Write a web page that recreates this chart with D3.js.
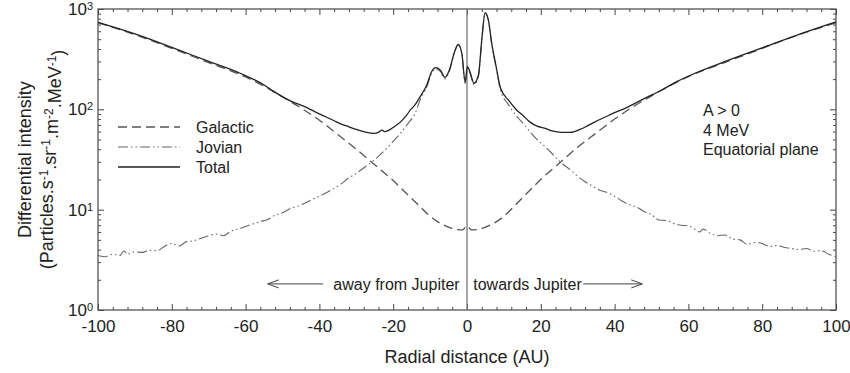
<!DOCTYPE html>
<html>
<head>
<meta charset="utf-8">
<script src="https://cdn.jsdelivr.net/npm/d3@7"></script>
<style>
  body { margin: 0; background: #fff; }
  svg { font-family: "Liberation Sans", Arial, sans-serif; }
</style>
</head>
<body>
<div id="chart"></div>
<script>
// [radial distance AU, differential intensity]
const galactic = [
  [-100, 730], [-90, 555], [-80, 405], [-70, 292], [-60, 210], [-55, 170], [-50, 133],
  [-45, 103], [-40, 78], [-35, 56], [-30, 40], [-25, 28], [-20, 19.5], [-16, 14],
  [-13, 11], [-10, 8.6], [-8, 7.6], [-5, 6.7], [-3, 6.35], [-1.2, 6.3], [0, 6.9],
  [1.2, 6.3], [3, 6.35], [5, 6.7], [8, 7.6], [10, 8.6], [13, 11], [16, 14.3],
  [20, 20], [25, 29], [30, 42], [35, 58], [40, 80], [45, 106], [50, 136], [55, 172],
  [60, 212], [70, 294], [80, 405], [90, 555], [100, 730]
];

const jovian = [
  [-100, 3.5], [-98, 3.4], [-96, 3.6], [-94, 3.5], [-93, 3.9], [-92, 3.6], [-90, 3.8],
  [-88, 3.75], [-86, 3.95], [-84, 3.9], [-82, 4.3], [-80, 4.6], [-78, 4.35], [-76, 4.8],
  [-74, 4.9], [-72, 5.2], [-70, 5.5], [-68, 5.7], [-66, 5.5], [-64, 6.1], [-62, 6.4],
  [-60, 6.8], [-58, 7.2], [-56, 7.6], [-54, 8.0], [-52, 8.8], [-50, 9.3], [-48, 10.2],
  [-46, 10.8], [-44, 11.6], [-42, 12.6], [-40, 13.6], [-38, 14.8], [-36, 16.3],
  [-34, 18.2], [-32, 20.8], [-30, 23], [-28, 26], [-26, 29.5], [-24, 34], [-22, 40],
  [-20, 48], [-18, 58], [-16, 72], [-14, 92], [-12.7, 124], [-10.9, 167], [-9.6, 229],
  [-8.4, 252], [-7.1, 236], [-6.0, 201], [-4.8, 238], [-3.5, 355], [-2.4, 439],
  [-1.4, 355], [-0.5, 181], [0.1, 259], [0.8, 230], [1.9, 176], [3.1, 214], [4.0, 484],
  [4.9, 912], [5.8, 769], [6.7, 448], [7.9, 258], [9.1, 154], [11.2, 112], [13.5, 85],
  [15.3, 72], [17, 60], [19, 50], [21, 43], [22.5, 38], [25.2, 30], [28, 25], [30, 21.5],
  [32, 19], [34, 17.2], [36, 15.6], [38, 14.8], [40, 13.6], [42, 12.2], [44, 11.2],
  [46, 10.6], [48, 9.6], [50, 8.9], [52, 7.9], [54, 7.8], [56, 7.3], [58, 7.0], [60, 6.9],
  [62, 6.3], [63, 6.0], [64, 6.4], [66, 5.8], [68, 5.5], [70, 5.6], [72, 5.1], [74, 5.0],
  [76, 4.5], [78, 4.7], [80, 4.6], [82, 4.3], [84, 4.4], [86, 4.2], [88, 4.1], [90, 4.0],
  [92, 4.1], [94, 3.85], [96, 3.9], [98, 3.6], [100, 3.4]
];

const total = [
  [-100, 736], [-90, 565], [-80, 415], [-70, 300], [-61.5, 229], [-55, 175], [-52.5, 152],
  [-48, 122], [-43.4, 104], [-40, 90], [-36, 77], [-34.4, 72], [-32, 67], [-30, 63],
  [-28, 60], [-26, 58], [-25, 57.5], [-24, 59], [-23, 62], [-22.3, 60], [-21.5, 61],
  [-20, 66], [-18, 75], [-16.5, 86], [-15.4, 98], [-14, 112], [-12.7, 134], [-10.9, 175],
  [-9.6, 237], [-8.4, 260], [-7.1, 243], [-6.0, 208], [-4.8, 245], [-3.5, 362],
  [-2.4, 445], [-1.4, 361], [-0.5, 188], [0.1, 266], [0.8, 237], [1.9, 182], [3.1, 220],
  [4.0, 490], [4.9, 920], [5.8, 776], [6.7, 455], [7.9, 266], [9.1, 162], [11.2, 124],
  [13.5, 98], [15.3, 86], [17, 75], [19, 68], [21, 65], [23, 61], [25.6, 59], [28, 59],
  [30.6, 63], [32.5, 68], [34.7, 75], [39, 89], [43.7, 106], [48, 128], [52.8, 156],
  [57, 190], [61.8, 229], [70, 300], [80, 410], [90, 560], [100, 745]
];

const xMajorTicks = [-100, -80, -60, -40, -20, 0, 20, 40, 60, 80, 100];
const yDecades = [1, 10, 100, 1000];
const notes = ["A > 0", "4 MeV", "Equatorial plane"];

const series = [
  { name: "Galactic", data: galactic, stroke: "#555", dash: "9,5", width: 1.3 },
  { name: "Jovian", data: jovian, stroke: "#666", dash: "10,3,1.5,3,1.5,3", width: 1.1 },
  { name: "Total", data: total, stroke: "#222", dash: null, width: 1.3 }
];

const arrows = [
  { from: -39, to: -54, label: "away from Jupiter", labelX: -2, anchor: "end" },
  { from: 31.5, to: 47.5, label: "towards Jupiter", labelX: 1.7, anchor: "start" }
];
const arrowLevel = 1.82;

const W = 850, H = 373;
const margin = { top: 9, right: 14, bottom: 63, left: 98 };
const textColor = "#222";

const svg = d3.select("#chart").append("svg")
  .attr("width", W)
  .attr("height", H);

const x = d3.scaleLinear()
  .domain([-100, 100])
  .range([margin.left, W - margin.right]);
const y = d3.scaleLog()
  .domain([1, 1000])
  .range([H - margin.bottom, margin.top]);

const x0 = x.range()[0], x1 = x.range()[1];
const yb = y.range()[0], yt = y.range()[1];

// minor ticks every 4 AU, log minor ticks on y
const xMinor = d3.range(-100, 101, 4).filter((v) => v % 20 !== 0);
const yMinor = y.ticks().filter((v) => !yDecades.includes(v));

function styleAxis(g) {
  g.select(".domain").remove();
  g.selectAll("line").attr("stroke", "#444").attr("stroke-width", 1);
  g.selectAll("text").attr("fill", textColor);
}

// bottom
svg.append("g")
  .attr("transform", `translate(0,${yb})`)
  .call(d3.axisBottom(x).tickValues(xMajorTicks).tickSizeInner(-6).tickSizeOuter(0).tickPadding(10)
    .tickFormat((d) => d))
  .call(styleAxis)
  .call((g) => g.selectAll("text").style("font-size", "17px"));
svg.append("g")
  .attr("transform", `translate(0,${yb})`)
  .call(d3.axisBottom(x).tickValues(xMinor).tickSizeInner(-3).tickSizeOuter(0).tickFormat(""))
  .call(styleAxis);

// top
svg.append("g")
  .attr("transform", `translate(0,${yt})`)
  .call(d3.axisTop(x).tickValues(xMajorTicks).tickSizeInner(-6).tickSizeOuter(0).tickFormat(""))
  .call(styleAxis);
svg.append("g")
  .attr("transform", `translate(0,${yt})`)
  .call(d3.axisTop(x).tickValues(xMinor).tickSizeInner(-3).tickSizeOuter(0).tickFormat(""))
  .call(styleAxis);

// left
svg.append("g")
  .attr("transform", `translate(${x0},0)`)
  .call(d3.axisLeft(y).tickValues(yDecades).tickSizeInner(-6).tickSizeOuter(0).tickPadding(5)
    .tickFormat(() => ""))
  .call(styleAxis)
  .call((g) => g.selectAll("text").each(function (d) {
    const t = d3.select(this).style("font-size", "17px");
    t.append("tspan").text("10");
    t.append("tspan").attr("dy", "-0.45em").style("font-size", "11px")
      .text(Math.round(Math.log10(d)));
  }));
svg.append("g")
  .attr("transform", `translate(${x0},0)`)
  .call(d3.axisLeft(y).tickValues(yMinor).tickSizeInner(-3).tickSizeOuter(0).tickFormat(""))
  .call(styleAxis);

// right
svg.append("g")
  .attr("transform", `translate(${x1},0)`)
  .call(d3.axisRight(y).tickValues(yDecades).tickSizeInner(-6).tickSizeOuter(0).tickFormat(""))
  .call(styleAxis);
svg.append("g")
  .attr("transform", `translate(${x1},0)`)
  .call(d3.axisRight(y).tickValues(yMinor).tickSizeInner(-3).tickSizeOuter(0).tickFormat(""))
  .call(styleAxis);

// frame
svg.append("rect")
  .attr("x", x0).attr("y", yt)
  .attr("width", x1 - x0).attr("height", yb - yt)
  .attr("fill", "none")
  .attr("stroke", "#555")
  .attr("stroke-width", 1.3);

// Jupiter position
svg.append("line")
  .attr("x1", x(0)).attr("x2", x(0))
  .attr("y1", yb).attr("y2", yt)
  .attr("stroke", "#777")
  .attr("stroke-width", 1.3);

const line = d3.line()
  .x((d) => x(d[0]))
  .y((d) => y(d[1]))
  .curve(d3.curveMonotoneX);

svg.append("g")
  .selectAll("path")
  .data(series)
  .join("path")
  .attr("d", (d) => line(d.data))
  .attr("fill", "none")
  .attr("stroke", (d) => d.stroke)
  .attr("stroke-width", (d) => d.width)
  .attr("stroke-dasharray", (d) => d.dash);

// legend
const legend = svg.append("g").attr("transform", "translate(118,127)");
const rows = legend.selectAll("g")
  .data(series)
  .join("g")
  .attr("transform", (_, i) => `translate(0,${i * 20})`);
rows.append("line")
  .attr("x1", 0).attr("x2", 62)
  .attr("stroke", (d) => d.stroke)
  .attr("stroke-width", (d) => d.width)
  .attr("stroke-dasharray", (d) => d.dash);
rows.append("text")
  .attr("x", 78)
  .attr("dy", "0.35em")
  .style("font-size", "16px")
  .attr("fill", textColor)
  .text((d) => d.name);

// run conditions
svg.append("g")
  .selectAll("text")
  .data(notes)
  .join("text")
  .attr("x", 703)
  .attr("y", (_, i) => 116 + i * 19.5)
  .style("font-size", "16px")
  .attr("fill", textColor)
  .text((d) => d);

// direction arrows
svg.append("defs").append("marker")
  .attr("id", "arrowhead")
  .attr("viewBox", "0 0 12 10")
  .attr("refX", 11).attr("refY", 5)
  .attr("markerWidth", 12).attr("markerHeight", 10)
  .attr("markerUnits", "userSpaceOnUse")
  .attr("orient", "auto")
  .append("path")
  .attr("d", "M0,1 L11,5 L0,9")
  .attr("fill", "none")
  .attr("stroke", "#444")
  .attr("stroke-width", 1);

const arrowG = svg.append("g");
arrowG.selectAll("line")
  .data(arrows)
  .join("line")
  .attr("x1", (d) => x(d.from)).attr("x2", (d) => x(d.to))
  .attr("y1", y(arrowLevel)).attr("y2", y(arrowLevel))
  .attr("stroke", "#444")
  .attr("stroke-width", 1)
  .attr("marker-end", "url(#arrowhead)");
arrowG.selectAll("text")
  .data(arrows)
  .join("text")
  .attr("x", (d) => x(d.labelX))
  .attr("y", y(arrowLevel))
  .attr("dy", "0.35em")
  .attr("text-anchor", (d) => d.anchor)
  .style("font-size", "16px")
  .attr("fill", textColor)
  .text((d) => d.label);

// axis titles
svg.append("text")
  .attr("x", x(0))
  .attr("y", 363)
  .attr("text-anchor", "middle")
  .style("font-size", "18px")
  .attr("fill", textColor)
  .text("Radial distance (AU)");

const yMid = (yt + yb) / 2;
svg.append("text")
  .attr("transform", `translate(31,${yMid}) rotate(-90)`)
  .attr("text-anchor", "middle")
  .style("font-size", "18px")
  .attr("fill", textColor)
  .text("Differential intensity");

const unit = svg.append("text")
  .attr("transform", `translate(53,${yMid}) rotate(-90)`)
  .attr("text-anchor", "middle")
  .style("font-size", "18px")
  .attr("fill", textColor);
const unitParts = [["(Particles.s", "-1"], [".sr", "-1"], [".m", "-2"], [".MeV", "-1"], [")", null]];
unitParts.forEach(([base, sup]) => {
  unit.append("tspan").attr("dy", sup === null ? "0.45em" : (base === "(Particles.s" ? 0 : "0.45em")).text(base);
  if (sup) unit.append("tspan").attr("dy", "-0.45em").style("font-size", "12px").text(sup);
});
</script>
</body>
</html>
